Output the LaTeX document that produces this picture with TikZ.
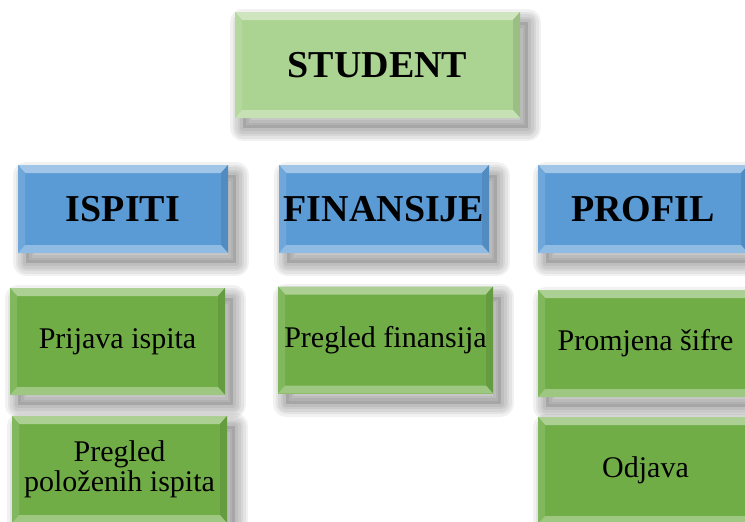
\documentclass[tikz,border=0pt]{standalone}
\usepackage{fontspec}
\setmainfont{Liberation Serif}
\definecolor{studgreen}{HTML}{ABD391}
\definecolor{hdrblue}{HTML}{5B9BD5}
\definecolor{itemgreen}{HTML}{70AD47}
\tikzset{
  shlayer/.style={draw=black, draw opacity=0.055, line width=#1, line join=round,
    transform canvas={shift={(8pt,-10pt)}}},
  softshadow/.style={
    preaction={shlayer=26pt}, preaction={shlayer=21pt}, preaction={shlayer=16pt},
    preaction={shlayer=11pt}, preaction={shlayer=6pt},
    preaction={fill=black, fill opacity=0.12, transform canvas={shift={(8pt,-10pt)}}}},
  bevbox/.style={fill=#1, draw=none, inner sep=0pt, outer sep=0pt, softshadow,
    path picture={
      \def\ppb{path picture bounding box}
      \fill[#1!58!white] (\ppb.north west) -- (\ppb.north east) -- ([shift={(-7pt,-8pt)}]\ppb.north east) -- ([shift={(7pt,-8pt)}]\ppb.north west) -- cycle;
      \fill[#1!88!white] (\ppb.north west) -- ([shift={(7pt,-8pt)}]\ppb.north west) -- ([shift={(7pt,8pt)}]\ppb.south west) -- (\ppb.south west) -- cycle;
      \fill[#1!90!black] (\ppb.north east) -- ([shift={(-7pt,-8pt)}]\ppb.north east) -- ([shift={(-7pt,8pt)}]\ppb.south east) -- (\ppb.south east) -- cycle;
      \fill[#1!68!white] (\ppb.south west) -- ([shift={(7pt,8pt)}]\ppb.south west) -- ([shift={(-7pt,8pt)}]\ppb.south east) -- (\ppb.south east) -- cycle;
    }},
  topbox/.style={bevbox=studgreen, minimum width=285pt, minimum height=106pt,
    font=\fontsize{38}{40}\selectfont\bfseries},
  hdrbox/.style={bevbox=hdrblue, minimum width=210pt, minimum height=88pt,
    font=\fontsize{38}{40}\selectfont\bfseries},
  itembox/.style={bevbox=itemgreen, minimum width=215pt, minimum height=107pt,
    align=center, font=\fontsize{30}{30}\selectfont}
}
\begin{document}
\begin{tikzpicture}[x=1pt,y=-1pt]
\useasboundingbox (0,0) rectangle (745,522);
\fill[white] (0,0) rectangle (745,522);
\clip (0,0) rectangle (745,522);
\node[topbox] (student) at (377.5,65) {STUDENT};
\node[hdrbox] (ispiti) at (123,209) {ISPITI};
\node[hdrbox] (finansije) at (384,209) {FINANSIJE};
\node[hdrbox] (profil) at (643,209) {PROFIL};
\node[itembox] (prijava) at (117.5,341.5) {Prijava ispita};
\node[itembox] (polozeni) at (119.5,469.5) {Pregled\\položenih ispita};
\node[itembox] (pregledfin) at (385.5,340) {Pregled finansija};
\node[itembox] (sifra) at (645.5,343.5) {Promjena šifre};
\node[itembox] (odjava) at (645.5,470.5) {Odjava};
\end{tikzpicture}
\end{document}
